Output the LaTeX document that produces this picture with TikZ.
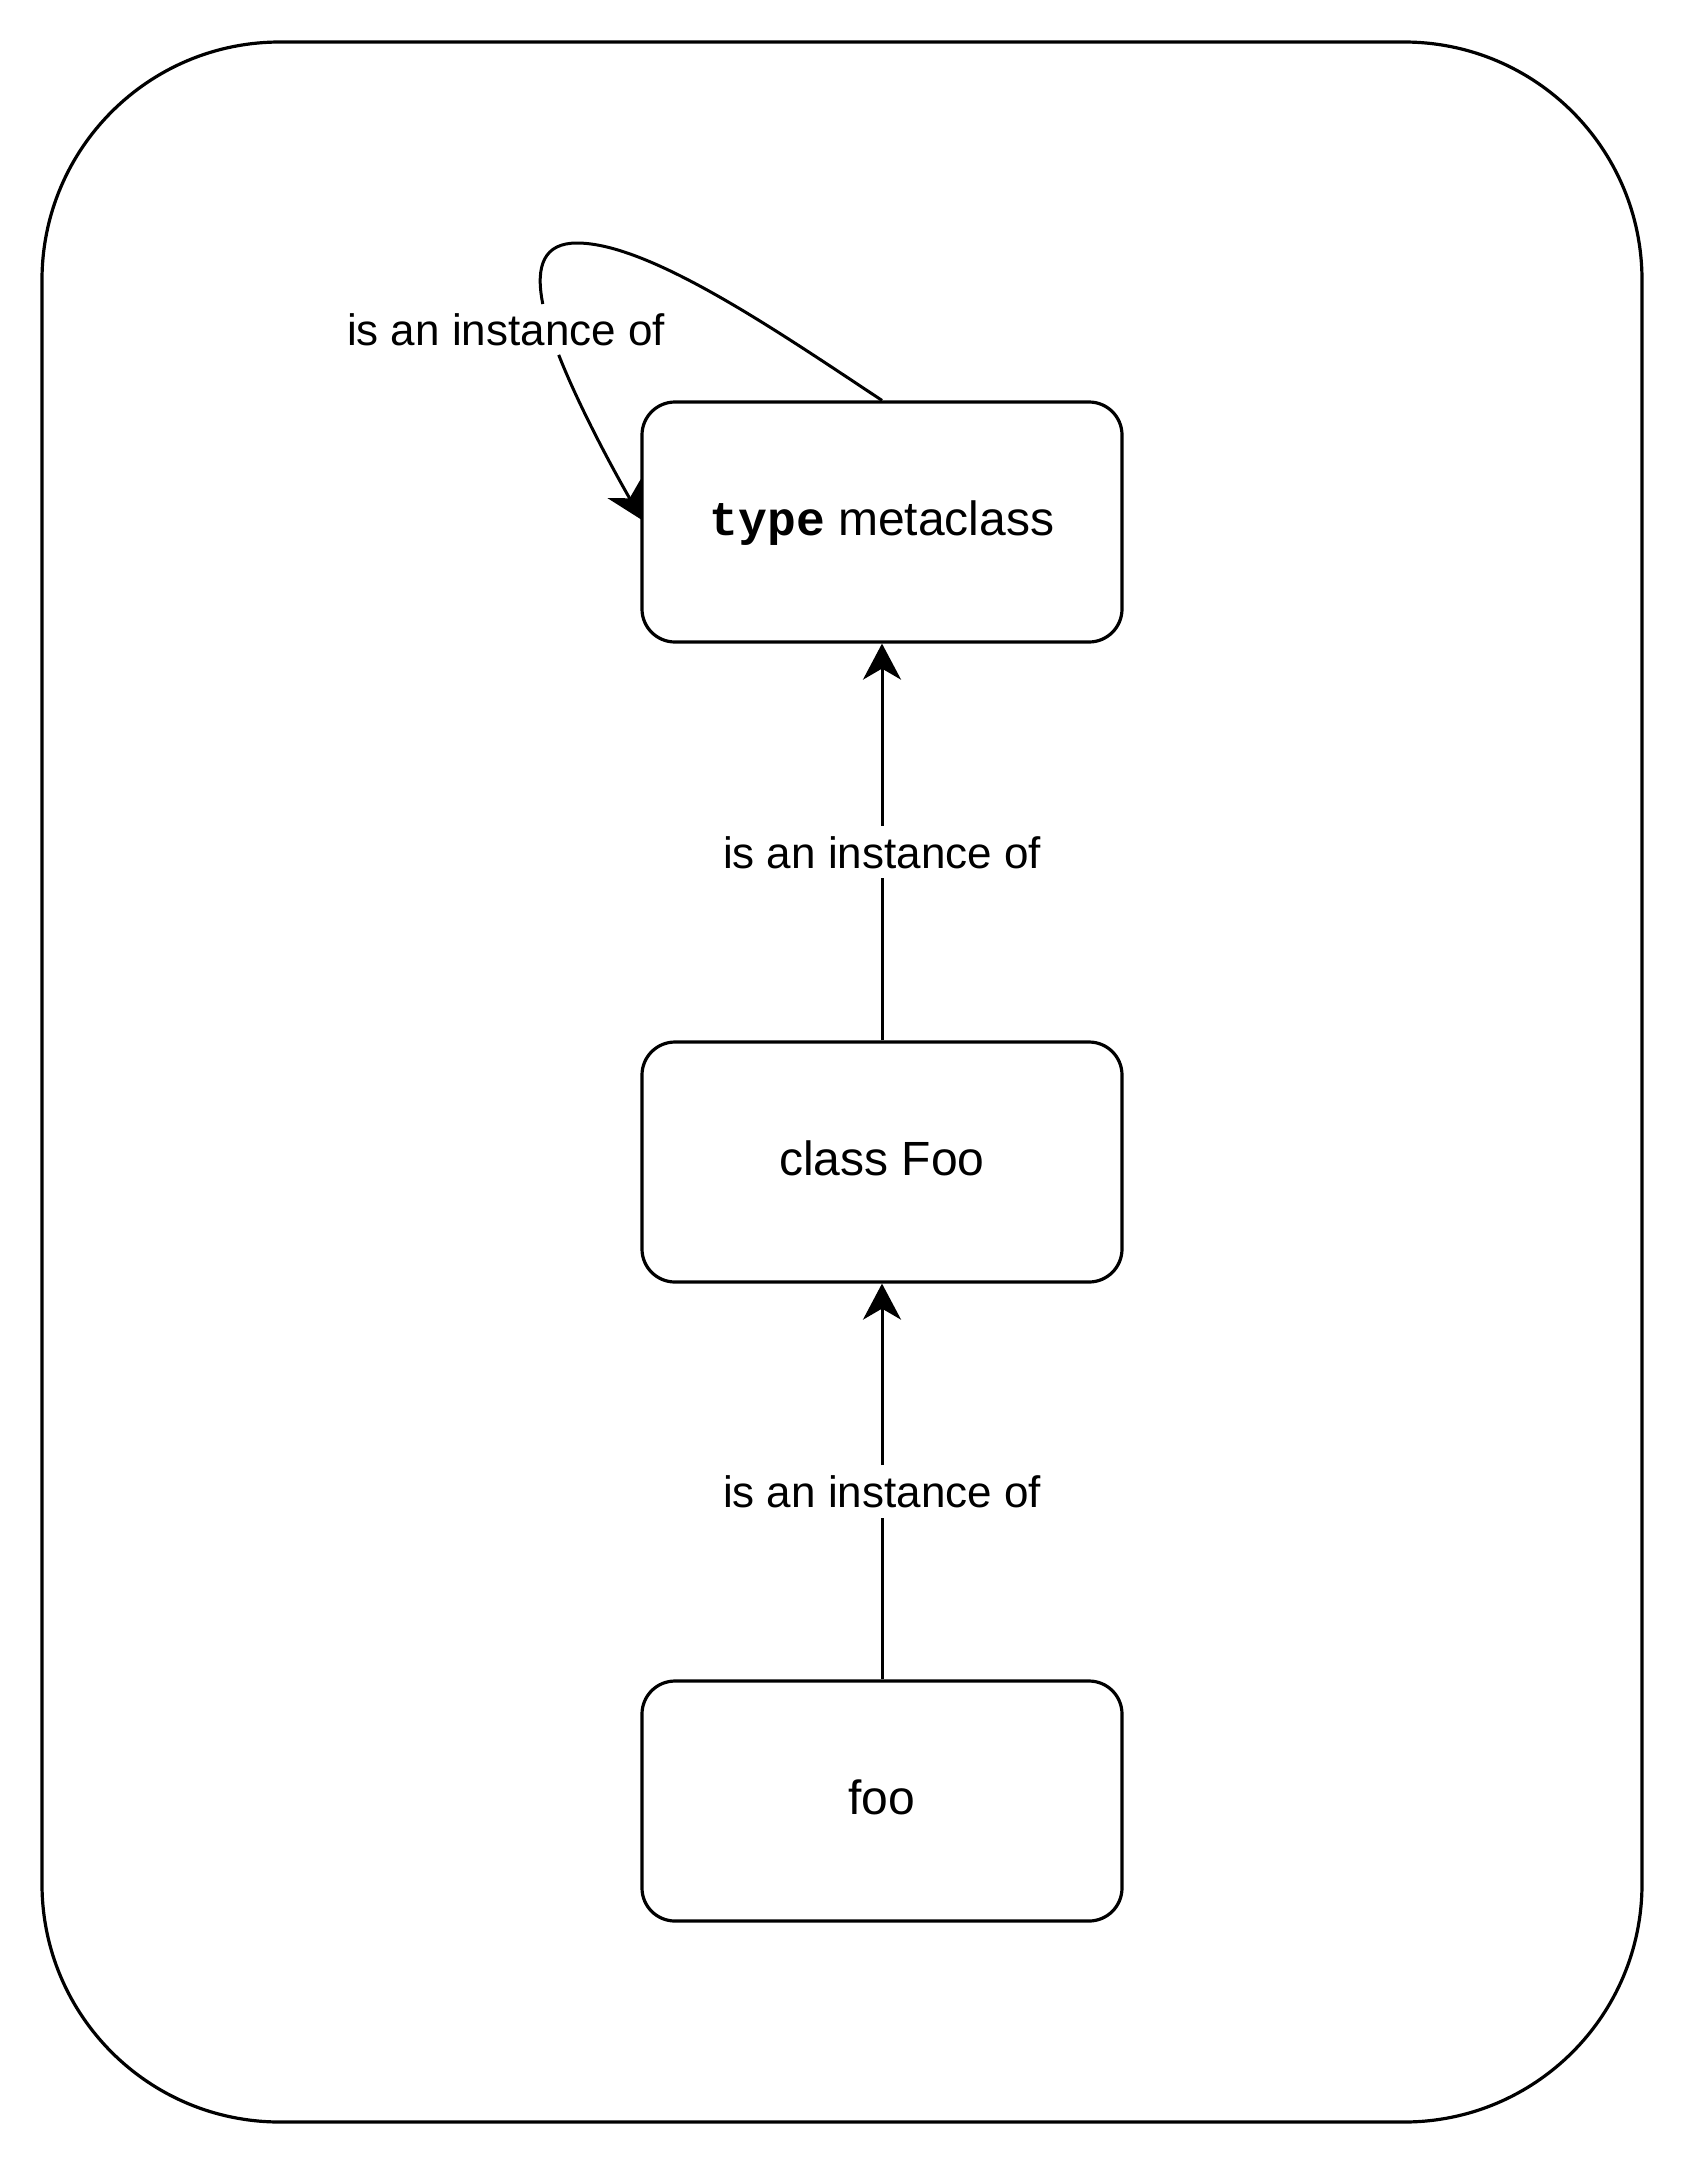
\documentclass[tikz,border=0pt]{standalone}
\usepackage{fontspec}
\setmainfont{Liberation Sans}
\setmonofont{Liberation Mono}
\usetikzlibrary{arrows.meta}
\begin{document}
\begin{tikzpicture}[x=0.5pt,y=-0.5pt,
  boxnode/.style={draw=black, line width=1.6pt, rounded corners=16.5pt,
    minimum width=240pt, minimum height=120pt, inner sep=0pt,
    text height=18pt, text depth=4.5pt,
    font=\fontsize{24}{28}\selectfont, fill=white},
  lbl/.style={fill=white, draw=none, inner xsep=2pt, inner ysep=5pt,
    text height=16pt, text depth=0pt, font=\fontsize{22}{26}\selectfont},
  line/.style={line width=1.5pt},
  conn/.style={line, -{Stealth[length=18pt, width=19pt, inset=5.5pt]}}
]
\fill[white] (0,0) rectangle (1684,2164);
\useasboundingbox (0,0) rectangle (1684,2164);
\draw[line width=1.6pt, rounded corners=119pt] (42,42) rectangle (1642,2122);

\node[boxnode] (type) at (882,522) {\texttt{\bfseries type} metaclass};
\node[boxnode] (cls) at (882,1162) {class Foo};
\node[boxnode] (foo) at (882,1801) {foo};

% labels
\node[lbl] (l1) at (882,852) {is an instance of};
\node[lbl] (l2) at (882,1491.5) {is an instance of};
\node[lbl] (l0) at (506,329) {is an instance of};

% straight connectors, split around their labels
\draw[line] (cls.north) -- (l1.south);
\draw[conn] (l1.north) -- (type.south);
\draw[line] (foo.north) -- (l2.south);
\draw[conn] (l2.north) -- (cls.south);

% self loop on the type node, split around its label
\coordinate (peak) at (577,243);
\coordinate (loopa) at (542.8,304);
\coordinate (loopb) at (558.7,354.9);
\coordinate (entry) at (642,520);
\draw[line] (type.north) .. controls (780,333) and (650,243) .. (peak)
   .. controls (544.6,243) and (534.9,264.7) .. (loopa);
\draw[conn] (loopb) .. controls (576.05,399.05) and (604.85,454.9) .. (entry);
\end{tikzpicture}
\end{document}
